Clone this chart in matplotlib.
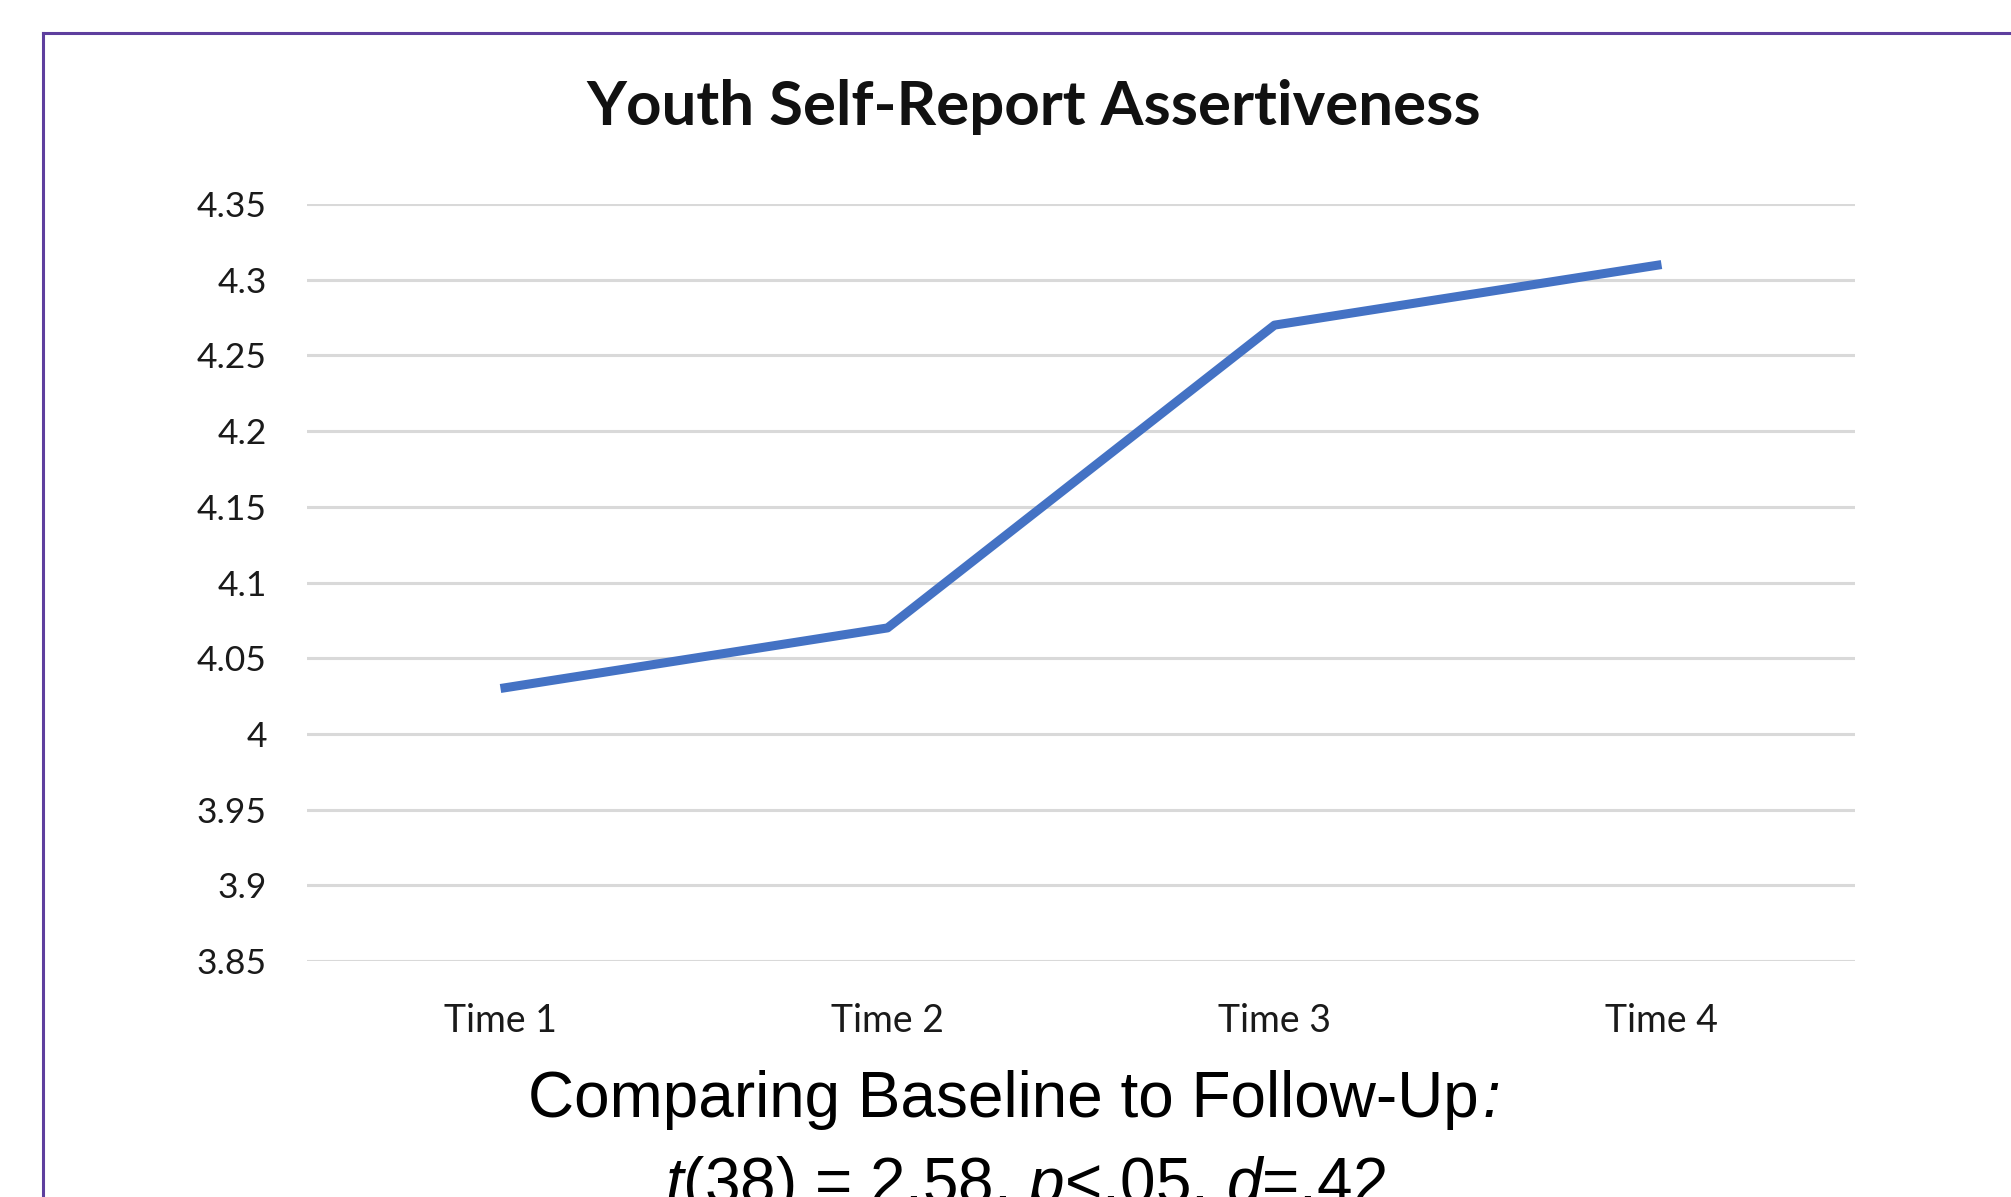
import matplotlib
matplotlib.use("Agg")
import matplotlib.pyplot as plt
from matplotlib.lines import Line2D

categories = ["Time 1", "Time 2", "Time 3", "Time 4"]
values = [4.03, 4.07, 4.27, 4.31]
yticks = [3.85, 3.9, 3.95, 4.0, 4.05, 4.1, 4.15, 4.2, 4.25, 4.3, 4.35]
ytick_labels = ["3.85", "3.9", "3.95", "4", "4.05", "4.1", "4.15", "4.2", "4.25", "4.3", "4.35"]
title = "Youth Self-Report Assertiveness"
caption1 = "Comparing Baseline to Follow-Up"
caption1_end = ":"
caption2 = r"$t$(38) = 2.58, $p$<.05, $d$=.42"

plt.rcParams["mathtext.fontset"] = "custom"
plt.rcParams["mathtext.rm"] = "Liberation Sans"
plt.rcParams["mathtext.it"] = "Liberation Sans:italic"

W, H = 2011, 1197
fig = plt.figure(figsize=(W / 100, H / 100), dpi=100)
fig.patch.set_facecolor("white")

# border lines (top and left)
border_color = "#5E3F9E"
fig.add_artist(Line2D([43 / W, 1.0], [1 - 33 / H, 1 - 33 / H], color=border_color, lw=2.2,
                      transform=fig.transFigure))
fig.add_artist(Line2D([43 / W, 43 / W], [0.0, 1 - 33 / H], color=border_color, lw=2.2,
                      transform=fig.transFigure))

left, right = 307 / W, 1855 / W
top, bottom = 1 - 204 / H, 1 - 961 / H
ax = fig.add_axes([left, bottom, right - left, top - bottom])

x = list(range(len(categories)))
ax.plot(x, values, color="#4472C4", lw=6.5, solid_capstyle="butt", zorder=3)

ax.set_xlim(-0.5, len(categories) - 0.5)
ax.set_ylim(3.85, 4.35)
ax.set_yticks(yticks)
ax.set_yticklabels(ytick_labels)
ax.set_xticks(x)
ax.set_xticklabels(categories)
ax.grid(axis="y", color="#D9D9D9", lw=2.2)
ax.set_axisbelow(True)
for s in ax.spines.values():
    s.set_visible(False)
ax.tick_params(axis="both", length=0, labelcolor="#1a1a1a")
ax.tick_params(axis="y", pad=29, labelsize=25.5)
ax.tick_params(axis="x", pad=30, labelsize=27)
for lab in ax.get_xticklabels() + ax.get_yticklabels():
    lab.set_fontfamily("Lato")

fig.text(1034 / W, 1 - 125 / H, title, ha="center", va="baseline", fontsize=44.5,
         fontweight="bold", family="Lato", color="#111111")

t1 = fig.text(528 / W, 1 - 1117 / H, caption1, ha="left", va="baseline", fontsize=46,
              family="Liberation Sans", color="black")
ax.annotate(caption1_end, xy=(1, 0), xycoords=t1, xytext=(3, 0), textcoords="offset points",
            ha="left", va="bottom", fontsize=46, family="Liberation Sans", style="italic",
            color="black", annotation_clip=False)
fig.text(1026 / W, 1 - 1203 / H, caption2, ha="center", va="baseline", fontsize=46,
         family="Liberation Sans", color="black")

fig.savefig("out.png", dpi=100, facecolor="white")
